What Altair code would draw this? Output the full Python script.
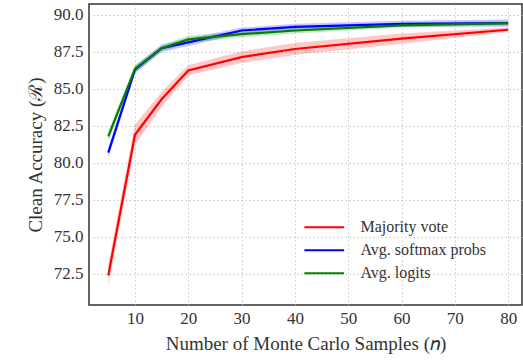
import altair as alt
import pandas as pd

n_samples = [5, 10, 15, 20, 30, 40, 60, 80]
majority = [72.4, 81.9, 84.3, 86.25, 87.15, 87.7, 88.4, 89.0]
majority_err = [0.7, 0.7, 0.5, 0.35, 0.4, 0.4, 0.35, 0.15]
softmax = [80.7, 86.3, 87.75, 88.15, 88.95, 89.2, 89.4, 89.45]
softmax_err = [0.35, 0.25, 0.25, 0.25, 0.2, 0.2, 0.2, 0.25]
logits = [81.8, 86.35, 87.75, 88.35, 88.7, 88.95, 89.3, 89.45]
logits_err = [0.35, 0.25, 0.2, 0.25, 0.2, 0.2, 0.15, 0.15]

series_names = ["Majority vote", "Avg. softmax probs", "Avg. logits"]
series_colors = ["#ff0000", "#0000ff", "#008000"]

rows = []
for name, vals, errs in zip(series_names, [majority, softmax, logits],
                            [majority_err, softmax_err, logits_err]):
    for n, v, e in zip(n_samples, vals, errs):
        rows.append({"n": n, "acc": v, "lo": v - e, "hi": v + e, "series": name})
df = pd.DataFrame(rows)

FONT = "Liberation Serif"

xscale = alt.Scale(domain=[1.38, 82.6], nice=False, zero=False)
yscale = alt.Scale(domain=[70.4, 90.74], nice=False, zero=False)
cscale = alt.Scale(domain=series_names, range=series_colors)

x_axis = alt.Axis(values=[10, 20, 30, 40, 50, 60, 70, 80], format="d",
                  labelFont=FONT, labelFontSize=17, labelColor="#333", labelPadding=5,
                  titleFont=FONT, titleFontSize=19, titleFontWeight="normal", titleColor="#333",
                  title="Number of Monte Carlo Samples (𝑛)", titlePadding=8,
                  grid=True, gridColor="#c8c8c8", gridDash=[1.5, 2.5], gridWidth=1,
                  domain=False, ticks=False)
y_axis = alt.Axis(values=[72.5, 75, 77.5, 80, 82.5, 85, 87.5, 90], format=".1f",
                  labelFont=FONT, labelFontSize=17, labelColor="#333", labelPadding=6,
                  titleFont=FONT, titleFontSize=19, titleFontWeight="normal", titleColor="#333",
                  title="Clean Accuracy (ℛ)", titlePadding=8,
                  grid=True, gridColor="#c8c8c8", gridDash=[1.5, 2.5], gridWidth=1,
                  domain=False, ticks=False)
legend = alt.Legend(title=None, orient="none", legendX=220.75, legendY=208.75,
                    symbolType="M-1.5,0H1.5", symbolSize=702,
                    symbolStrokeWidth=2.2, symbolFillColor="transparent",
                    symbolOpacity=1, labelFont=FONT,
                    labelFontSize=16, labelColor="#333",
                    labelOffset=21.75, rowPadding=0, padding=0,
                    labelLimit=300)
color = alt.Color("series:N", scale=cscale, sort=series_names, legend=legend)

band = alt.Chart(df).mark_area(opacity=0.22, clip=True).encode(
    x=alt.X("n:Q", scale=xscale, axis=x_axis),
    y=alt.Y("lo:Q", scale=yscale, axis=y_axis),
    y2="hi:Q",
    color=color,
)
line = alt.Chart(df).mark_line(strokeWidth=2.2, clip=True).encode(
    x=alt.X("n:Q", scale=xscale, axis=x_axis),
    y=alt.Y("acc:Q", scale=yscale, axis=y_axis),
    color=color,
)

chart = alt.layer(band, line).properties(
    width=433, height=301,
    autosize=alt.AutoSizeParams(type="none"),
    padding={"left": 89, "top": 4, "right": 1, "bottom": 59},
).configure(
    style={"guide-label": {"font": FONT, "fontSize": 17, "fill": "#333"},
           "guide-title": {"font": FONT, "fontSize": 19, "fill": "#333"}}
).configure_view(
    stroke="#333", strokeWidth=1.5
)

chart.save("out.html", embed_options={"renderer": "svg", "actions": False})
